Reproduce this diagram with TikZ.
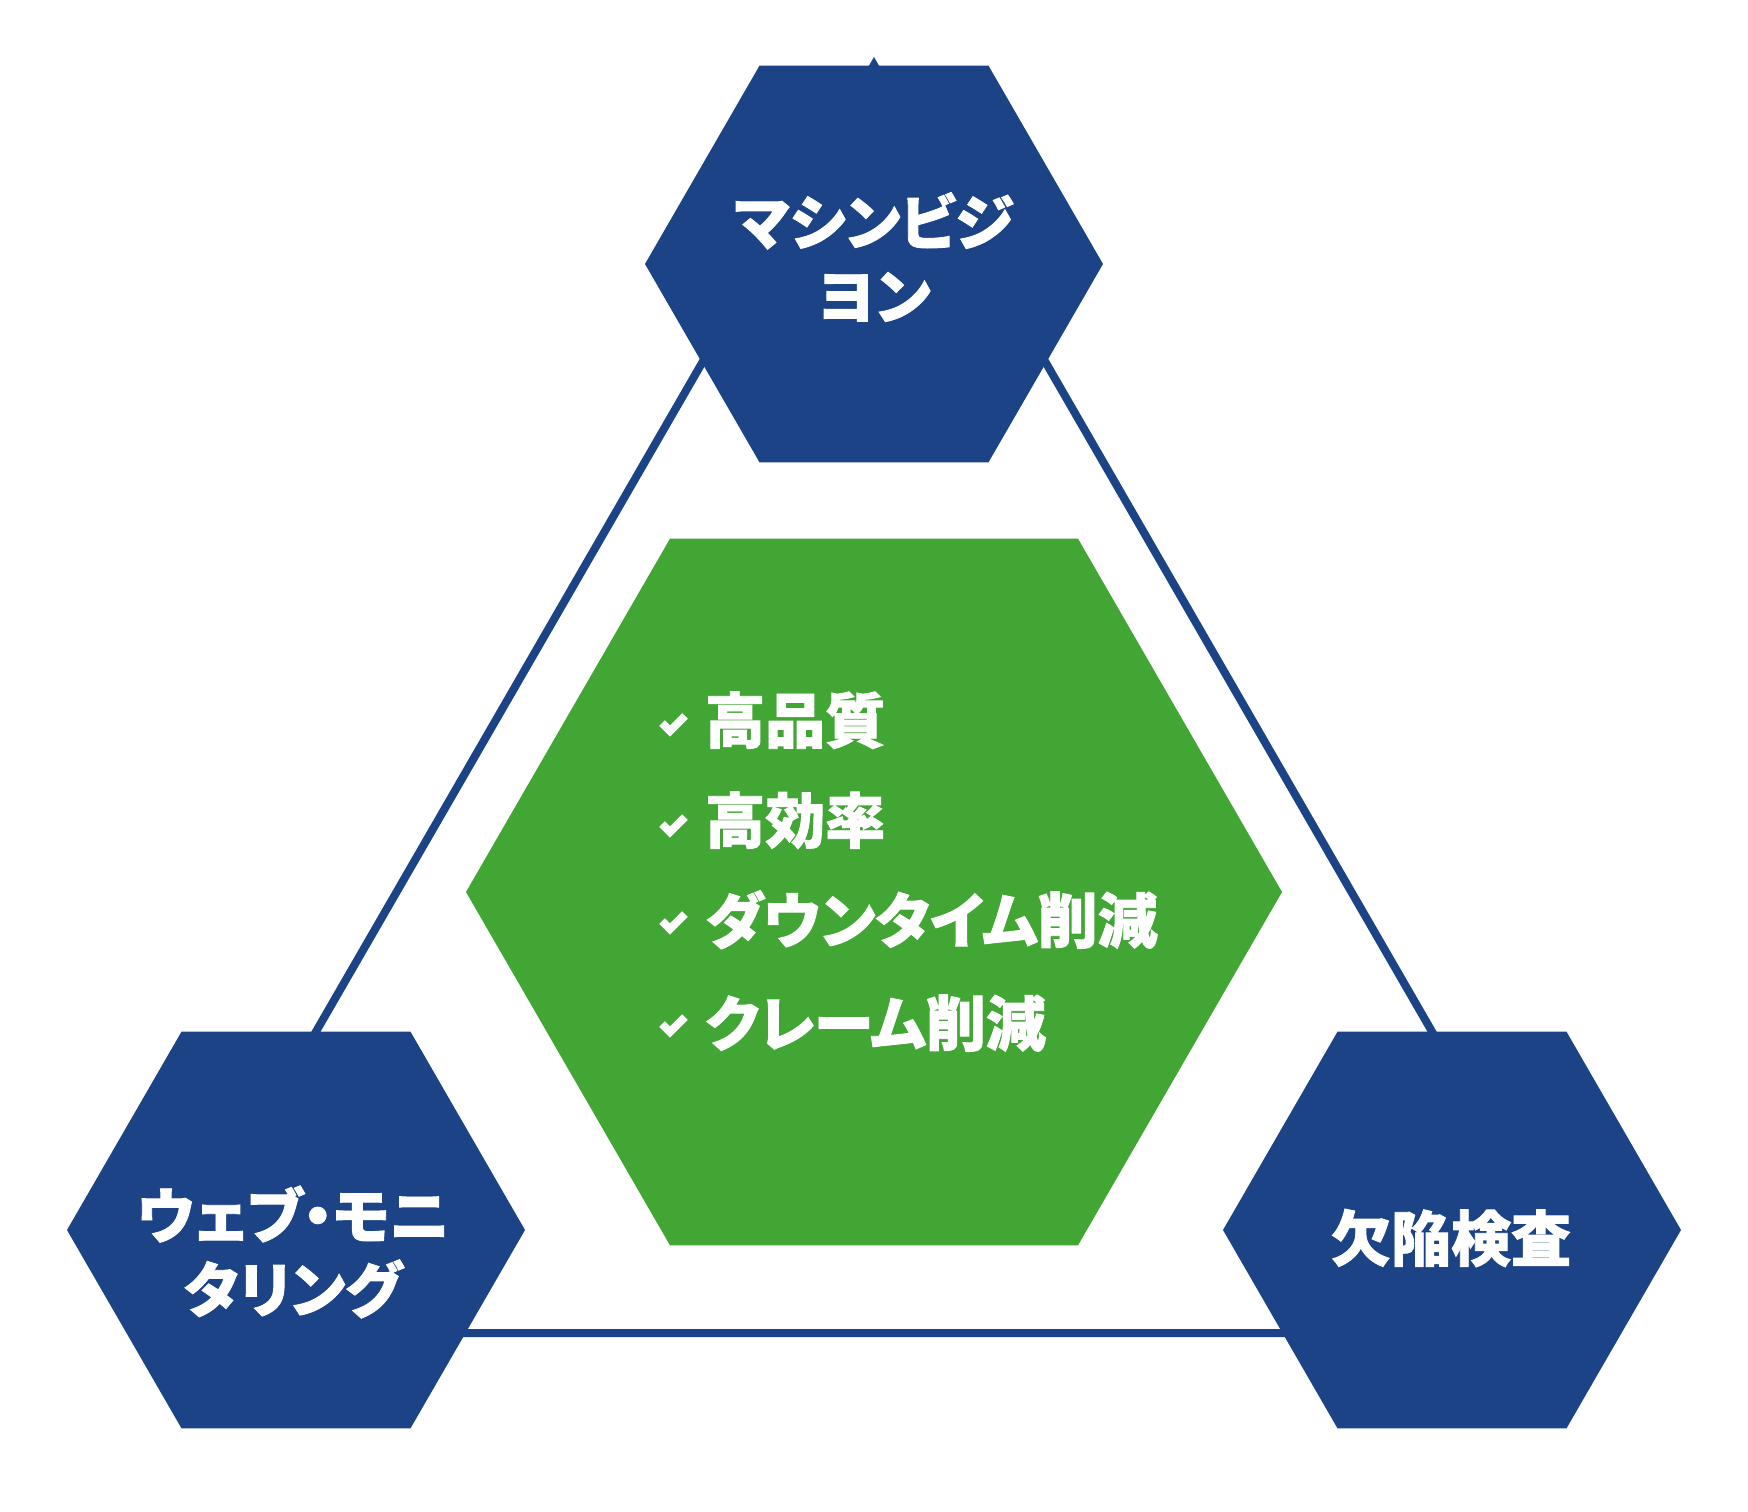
\documentclass[tikz,border=0pt]{standalone}
\usepackage{fontspec}
\usetikzlibrary{shapes.geometric}
\newfontfamily\jp{Noto Sans CJK JP}[BoldFeatures={FakeBold=1.5}]
\newfontfamily\jpp{Noto Sans CJK JP}[RawFeature=+palt, BoldFeatures={FakeBold=1.5}]
\definecolor{hexblue}{RGB}{27,67,134}
\definecolor{hexgreen}{RGB}{66,166,53}
\tikzset{
  hexbase/.style={regular polygon, regular polygon sides=6, inner sep=0pt, outer sep=0pt},
  bluehex/.style={hexbase, minimum size=458pt, fill=hexblue},
  greenhex/.style={hexbase, minimum size=816pt, fill=hexgreen},
  lbl/.style={text=white, font=\jpp\bfseries\fontsize{60}{74}\selectfont, align=center, inner sep=0pt},
  listitem/.style={text=white, font=\jpp\bfseries\fontsize{60}{72}\selectfont, anchor=base west, inner sep=0pt},
  chk/.style={draw=white, line width=8pt, line join=miter, line cap=butt},
  tri/.style={draw=hexblue, line width=8pt, line join=miter},
}
\begin{document}
\begin{tikzpicture}[x=1pt,y=-1pt]
\useasboundingbox[fill=white] (0,0) rectangle (1748,1512);
% triangle frame
\coordinate (ta) at (874,65);
\coordinate (tl) at (142,1333);
\coordinate (tr) at (1606,1333);
\draw[tri] (ta) -- (tl) -- (tr) -- cycle;
% hexagons
\node[bluehex] (mv) at (874,264) {};
\node[bluehex] (wm) at (296,1230) {};
\node[bluehex] (di) at (1452,1230) {};
\node[greenhex] (ctr) at (874,892) {};
% labels
\node[lbl] (mvl) at (874,257) {マシンビジ\\ヨン};
\node[lbl] (wml) at (293,1252) {ウェブ・モニ\\タリング};
\node[lbl] (dil) at (1451,1238) {欠陥検査};
% list
\node[listitem] (i1) at (705,743) {高品質};
\node[listitem] (i2) at (705,843) {高効率};
\node[listitem] (i3) at (705,943) {ダウンタイム削減};
\node[listitem] (i4) at (705,1046) {クレーム削減};
% check marks
\coordinate (c1) at (673,727);
\coordinate (c2) at (673,828);
\coordinate (c3) at (673,925);
\coordinate (c4) at (673,1028);
\foreach \c in {c1,c2,c3,c4}
  \draw[chk] (\c) ++(-11,-4) -- ++(8,8) -- ++(15,-15);
\end{tikzpicture}
\end{document}
